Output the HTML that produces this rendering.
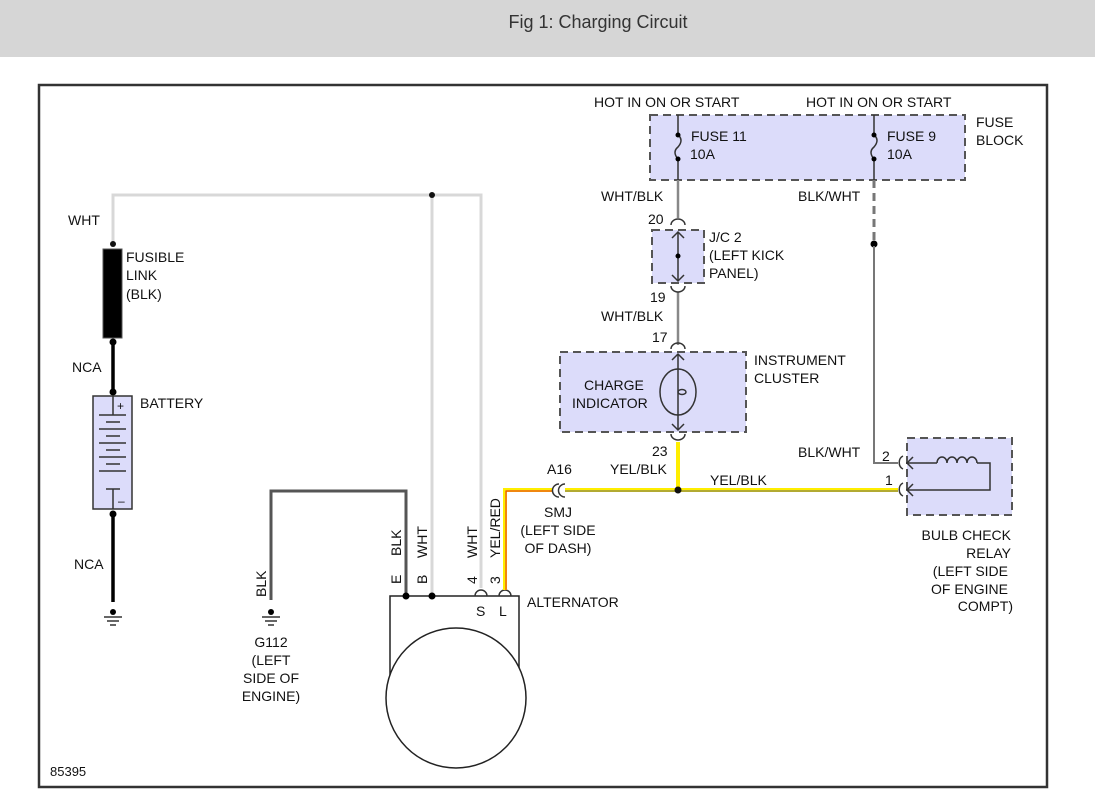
<!DOCTYPE html>
<html><head><meta charset="utf-8"><style>
body{margin:0;width:1095px;height:795px;background:#fff;overflow:hidden}
svg{display:block}
text{font-family:"Liberation Sans",Arial,sans-serif;font-size:14px;fill:#111}
</style></head><body>
<svg width="1095" height="795" viewBox="0 0 1095 795">
<rect x="0" y="0" width="1095" height="57" fill="#d6d6d6"/>
<text x="598" y="28" text-anchor="middle" style="font-size:18px;fill:#333">Fig 1: Charging Circuit</text>
<rect x="39" y="85" width="1008" height="702" fill="#fff" stroke="#333" stroke-width="2.5"/>

<rect x="650" y="115" width="315" height="65" fill="#dcdcfa" stroke="#555" stroke-width="2" stroke-dasharray="8,5"/>
<rect x="652" y="230" width="52" height="53" fill="#dcdcfa" stroke="#555" stroke-width="2" stroke-dasharray="8,5"/>
<rect x="560" y="352" width="186" height="80" fill="#dcdcfa" stroke="#555" stroke-width="2" stroke-dasharray="8,5"/>
<rect x="907" y="438" width="105" height="77" fill="#dcdcfa" stroke="#555" stroke-width="2" stroke-dasharray="8,5"/>

<g stroke="#d8d8d8" stroke-width="3" fill="none">
<polyline points="113,246 113,195 481,195 481,588"/>
<line x1="432" y1="195" x2="432" y2="596"/>
</g>
<circle cx="432" cy="195" r="3" fill="#111"/>
<circle cx="113" cy="244" r="3" fill="#111"/>

<rect x="103" y="249" width="19" height="89" fill="#000" stroke="#555"/>
<g stroke="#000" stroke-width="3.5"><line x1="113" y1="341" x2="113" y2="392"/><line x1="113" y1="514" x2="113" y2="602"/></g>
<circle cx="113" cy="342" r="3.5"/><circle cx="113" cy="392" r="3.5"/><circle cx="113" cy="514" r="3.5"/>
<circle cx="113" cy="612" r="3"/>
<g stroke="#333" stroke-width="1.5"><line x1="104" y1="617" x2="122" y2="617"/><line x1="107" y1="621" x2="119" y2="621"/><line x1="110" y1="625" x2="116" y2="625"/></g>

<rect x="93" y="396" width="39" height="113" fill="#dcdcfa" stroke="#333" stroke-width="1.5"/>
<g stroke="#333" stroke-width="1.5">
<line x1="113" y1="396" x2="113" y2="415"/>
<line x1="99" y1="415" x2="126" y2="415"/><line x1="106" y1="422" x2="120" y2="422"/>
<line x1="99" y1="429" x2="126" y2="429"/><line x1="106" y1="436" x2="120" y2="436"/>
<line x1="99" y1="443" x2="126" y2="443"/><line x1="106" y1="450" x2="120" y2="450"/>
<line x1="99" y1="457" x2="126" y2="457"/><line x1="106" y1="464" x2="120" y2="464"/>
<line x1="99" y1="471" x2="126" y2="471"/><line x1="106" y1="489" x2="120" y2="489"/>
<line x1="113" y1="489" x2="113" y2="509"/>
</g>
<text x="117" y="410" style="font-size:12px">+</text><text x="118" y="505" style="font-size:12px">–</text>

<polyline points="271,600 271,491 406,491 406,596" stroke="#555" stroke-width="3" fill="none"/>
<circle cx="271" cy="612" r="3"/>
<g stroke="#333" stroke-width="1.5"><line x1="262" y1="617" x2="280" y2="617"/><line x1="265" y1="621" x2="277" y2="621"/><line x1="268" y1="625" x2="274" y2="625"/></g>

<polyline points="390,680 390,596 519,596 519,680" fill="none" stroke="#222" stroke-width="1.5"/>
<circle cx="456" cy="698" r="70" fill="#fff" stroke="#222" stroke-width="1.5"/>
<circle cx="406" cy="596" r="3.5"/><circle cx="432" cy="596" r="3.5"/>
<path d="M475,596 a6,6 0 0 1 12,0 M499,596 a6,6 0 0 1 12,0" fill="none" stroke="#333" stroke-width="1.5"/>

<polyline points="505,590 505,490 553,490" stroke="#ffee00" stroke-width="4" fill="none"/>
<polyline points="506,590 506,491 553,491" stroke="#e02020" stroke-width="1" fill="none"/>
<path d="M559,484 a6,6 0 0 0 0,13 M565,484 a6,6 0 0 0 0,13" fill="none" stroke="#333" stroke-width="1.5"/>
<line x1="565" y1="490" x2="898" y2="490" stroke="#ffee00" stroke-width="4"/>
<line x1="565" y1="491" x2="898" y2="491" stroke="#666" stroke-width="1"/>
<line x1="678" y1="442" x2="678" y2="488" stroke="#ffee00" stroke-width="4"/>
<circle cx="678" cy="490" r="3.5" fill="#111"/>

<g stroke="#888" stroke-width="2.5" fill="none">
<line x1="678" y1="180" x2="678" y2="218"/>
<line x1="678" y1="292" x2="678" y2="345"/>
</g>
<g stroke="#333" stroke-width="1.5" fill="none">
<line x1="678" y1="115" x2="678" y2="135"/><path d="M678,135 q6,5 0,12 q-6,5 0,12"/><line x1="678" y1="159" x2="678" y2="180"/>
<line x1="874" y1="115" x2="874" y2="135"/><path d="M874,135 q6,5 0,12 q-6,5 0,12"/><line x1="874" y1="159" x2="874" y2="180"/>
<path d="M671,225 a7,6 0 0 1 14,0 M671,286 a7,6 0 0 0 14,0 M671,349 a7,6 0 0 1 14,0 M671,434 a7,6 0 0 0 14,0"/>
<line x1="678" y1="232" x2="678" y2="281"/><path d="M672,238 l6,-6 l6,6 M672,275 l6,6 l6,-6"/>
<line x1="678" y1="354" x2="678" y2="430"/><path d="M672,360 l6,-6 l6,6 M672,424 l6,6 l6,-6"/>
<ellipse cx="678" cy="392" rx="18" ry="23" fill="none"/>
<ellipse cx="682" cy="392" rx="4" ry="2.5"/>
</g>
<circle cx="678" cy="135" r="2.5"/><circle cx="678" cy="159" r="2.5"/><circle cx="874" cy="135" r="2.5"/><circle cx="874" cy="159" r="2.5"/>
<circle cx="678" cy="256" r="2.5"/>

<line x1="874" y1="180" x2="874" y2="243" stroke="#777" stroke-width="3" stroke-dasharray="8,5"/>
<circle cx="874" cy="244" r="3.5"/>
<polyline points="874,246 874,463 898,463" stroke="#777" stroke-width="2" fill="none"/>
<g stroke="#333" stroke-width="1.5" fill="none">
<path d="M903,456 a6,7 0 0 0 0,13 M903,483 a6,7 0 0 0 0,13"/>
<path d="M906,463 L937,463 M977,463 L990,463 L990,490 L906,490"/>
<path d="M913,457 l-6,6 l6,6 M913,484 l-6,6 l6,6"/>
<path d="M937,463 a5,6 0 0 1 10,0 a5,6 0 0 1 10,0 a5,6 0 0 1 10,0 a5,6 0 0 1 10,0"/>
</g>

<text x="68" y="225">WHT</text>
<text x="126" y="262">FUSIBLE</text><text x="126" y="280">LINK</text><text x="126" y="299">(BLK)</text>
<text x="72" y="372">NCA</text>
<text x="140" y="408">BATTERY</text>
<text x="74" y="569">NCA</text>
<text x="271" y="647" text-anchor="middle">G112</text><text x="271" y="665" text-anchor="middle">(LEFT</text><text x="271" y="683" text-anchor="middle">SIDE OF</text><text x="271" y="701" text-anchor="middle">ENGINE)</text>
<text transform="translate(266,597) rotate(-90)">BLK</text>
<text transform="translate(401,556) rotate(-90)">BLK</text>
<text transform="translate(427,558) rotate(-90)">WHT</text>
<text transform="translate(401,584) rotate(-90)">E</text>
<text transform="translate(427,584) rotate(-90)">B</text>
<text transform="translate(477,558) rotate(-90)">WHT</text>
<text transform="translate(500,558) rotate(-90)">YEL/RED</text>
<text transform="translate(477,584) rotate(-90)">4</text>
<text transform="translate(500,584) rotate(-90)">3</text>
<text x="476" y="616">S</text><text x="499" y="616">L</text>
<text x="527" y="607">ALTERNATOR</text>
<text x="547" y="474">A16</text>
<text x="558" y="517" text-anchor="middle">SMJ</text><text x="558" y="535" text-anchor="middle">(LEFT SIDE</text><text x="558" y="553" text-anchor="middle">OF DASH)</text>
<text x="652" y="456">23</text>
<text x="610" y="474">YEL/BLK</text>
<text x="710" y="485">YEL/BLK</text>
<text x="584" y="390">CHARGE</text><text x="572" y="408">INDICATOR</text>
<text x="754" y="365">INSTRUMENT</text><text x="754" y="383">CLUSTER</text>
<text x="652" y="342">17</text>
<text x="601" y="321">WHT/BLK</text>
<text x="650" y="302">19</text>
<text x="648" y="224">20</text>
<text x="709" y="242">J/C 2</text><text x="709" y="260">(LEFT KICK</text><text x="709" y="278">PANEL)</text>
<text x="601" y="201">WHT/BLK</text>
<text x="798" y="201">BLK/WHT</text>
<text x="594" y="107">HOT IN ON OR START</text>
<text x="806" y="107">HOT IN ON OR START</text>
<text x="691" y="141">FUSE 11</text><text x="690" y="159">10A</text>
<text x="887" y="141">FUSE 9</text><text x="887" y="159">10A</text>
<text x="976" y="127">FUSE</text><text x="976" y="145">BLOCK</text>
<text x="798" y="457">BLK/WHT</text>
<text x="882" y="461">2</text><text x="885" y="485">1</text>
<text x="1011" y="540" text-anchor="end">BULB CHECK</text><text x="1011" y="558" text-anchor="end">RELAY</text><text x="1008" y="576" text-anchor="end">(LEFT SIDE</text><text x="1008" y="594" text-anchor="end">OF ENGINE</text><text x="1013" y="611" text-anchor="end">COMPT)</text>
<text x="50" y="776" style="font-size:13px">85395</text>
</svg>
</body></html>
